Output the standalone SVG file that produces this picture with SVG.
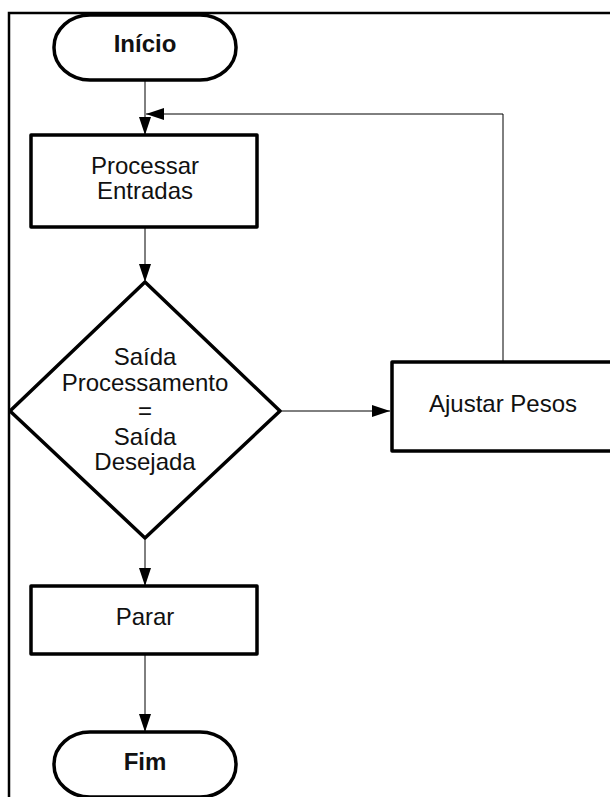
<svg xmlns="http://www.w3.org/2000/svg" width="610" height="797" viewBox="0 0 610 797">
  <style>
    .node { fill: #fff; stroke: #000; stroke-width: 3.5; stroke-linejoin: round; }
    .frame { fill: none; stroke: #000; stroke-width: 2.5; }
    .conn { fill: none; stroke: #000; stroke-width: 1; }
    .label { font-family: "Liberation Sans", Arial, sans-serif; font-size: 24px; fill: #111; text-anchor: middle; }
    .bold { font-weight: bold; }
  </style>
  <defs>
    <marker id="arrow" viewBox="0 0 18 12" refX="18" refY="6" markerWidth="18" markerHeight="12" markerUnits="userSpaceOnUse" orient="auto">
      <path d="M0,0 L18,6 L0,12 Z" fill="#000"/>
    </marker>
  </defs>
  <rect width="610" height="797" fill="#fff"/>

  <!-- page frame -->
  <path class="frame" d="M9,797 V13 H610"/>

  <!-- connectors -->
  <g id="connectors">
    <path class="conn" d="M145,80 V135" marker-end="url(#arrow)"/>
    <path class="conn" d="M503,362 V114 H146" marker-end="url(#arrow)"/>
    <path class="conn" d="M145,227 V282" marker-end="url(#arrow)"/>
    <path class="conn" d="M280,411 H390" marker-end="url(#arrow)"/>
    <path class="conn" d="M145,538 V586" marker-end="url(#arrow)"/>
    <path class="conn" d="M145,654 V732" marker-end="url(#arrow)"/>
  </g>

  <g id="inicio">
    <rect class="node" x="54" y="15" width="182" height="65" rx="36" ry="32"/>
    <text class="label bold" x="145" y="52">Início</text>
  </g>

  <g id="processar">
    <rect class="node" x="31" y="135" width="226" height="92"/>
    <text class="label" x="145" y="174">Processar</text>
    <text class="label" x="145" y="199">Entradas</text>
  </g>

  <g id="decisao">
    <path class="node" d="M145,282 L280,411 L145,538 L10,411 Z"/>
    <text class="label" x="145" y="365">Saída</text>
    <text class="label" x="145" y="391">Processamento</text>
    <text class="label" x="145" y="419">=</text>
    <text class="label" x="145" y="445">Saída</text>
    <text class="label" x="145" y="470">Desejada</text>
  </g>

  <g id="ajustar">
    <rect class="node" x="392" y="362" width="240" height="89"/>
    <text class="label" x="503" y="412">Ajustar Pesos</text>
  </g>

  <g id="parar">
    <rect class="node" x="31" y="586" width="226" height="68"/>
    <text class="label" x="145" y="625">Parar</text>
  </g>

  <g id="fim">
    <rect class="node" x="54" y="732" width="182" height="65" rx="36" ry="32"/>
    <text class="label bold" x="145" y="770">Fim</text>
  </g>
</svg>
